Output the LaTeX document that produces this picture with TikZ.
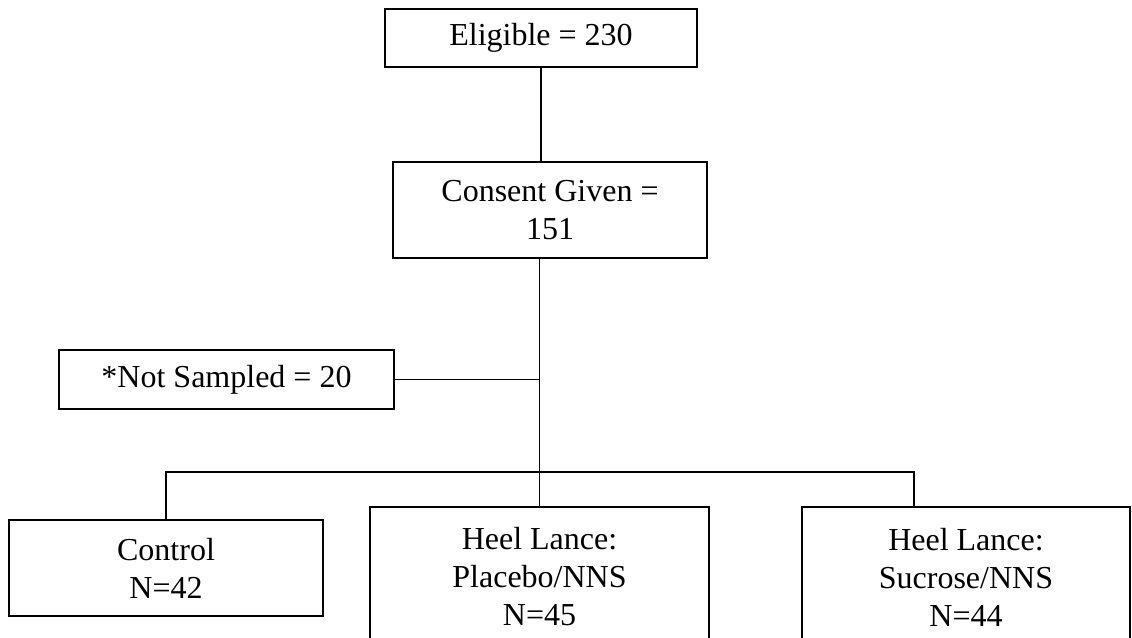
\documentclass[tikz,border=0pt]{standalone}
\usepackage{fontspec}
\setmainfont{Liberation Serif}
\begin{document}
\begin{tikzpicture}[x=0.5pt,y=-0.5pt,
  box/.style={draw, line width=0.75pt, inner sep=0pt, align=center,
    font=\fontsize{16}{19}\selectfont},
  link/.style={line width=0.75pt}]
\useasboundingbox (0,0) rectangle (1132,638);
\begin{scope}
\clip (0,0) rectangle (1132,638);
\node[box, minimum width=156pt, minimum height=29pt] (elig) at (541,38) {Eligible = 230};
\node[box, minimum width=157pt, minimum height=48pt] (cons) at (550,210) {Consent Given =\\151};
\node[box, minimum width=167.5pt, minimum height=29.5pt] (ns) at (226.5,379.5) {*Not Sampled = 20};
\node[box, minimum width=157pt, minimum height=48pt] (ctrl) at (166,568) {Control\\N=42};
\node[box, minimum width=169.5pt, minimum height=70pt] (plac) at (539.5,577) {Heel Lance:\\Placebo/NNS\\N=45};
\node[box, minimum width=164pt, minimum height=70pt] (sucr) at (966,577) {Heel Lance:\\Sucrose/NNS\\N=44};
\coordinate (j2) at (540,472);
\coordinate (sj) at (914,472);
\draw[link] (elig.south) -- (elig.south |- cons.north);
\draw[link] (plac.north |- cons.south) -- (plac.north);
\draw[link] (ns.east) -- (ns.east -| plac.north);
\draw[link] (ctrl.north) -- (ctrl.north |- j2) -- (sj) -- (sj |- sucr.north);
\end{scope}
\end{tikzpicture}
\end{document}
